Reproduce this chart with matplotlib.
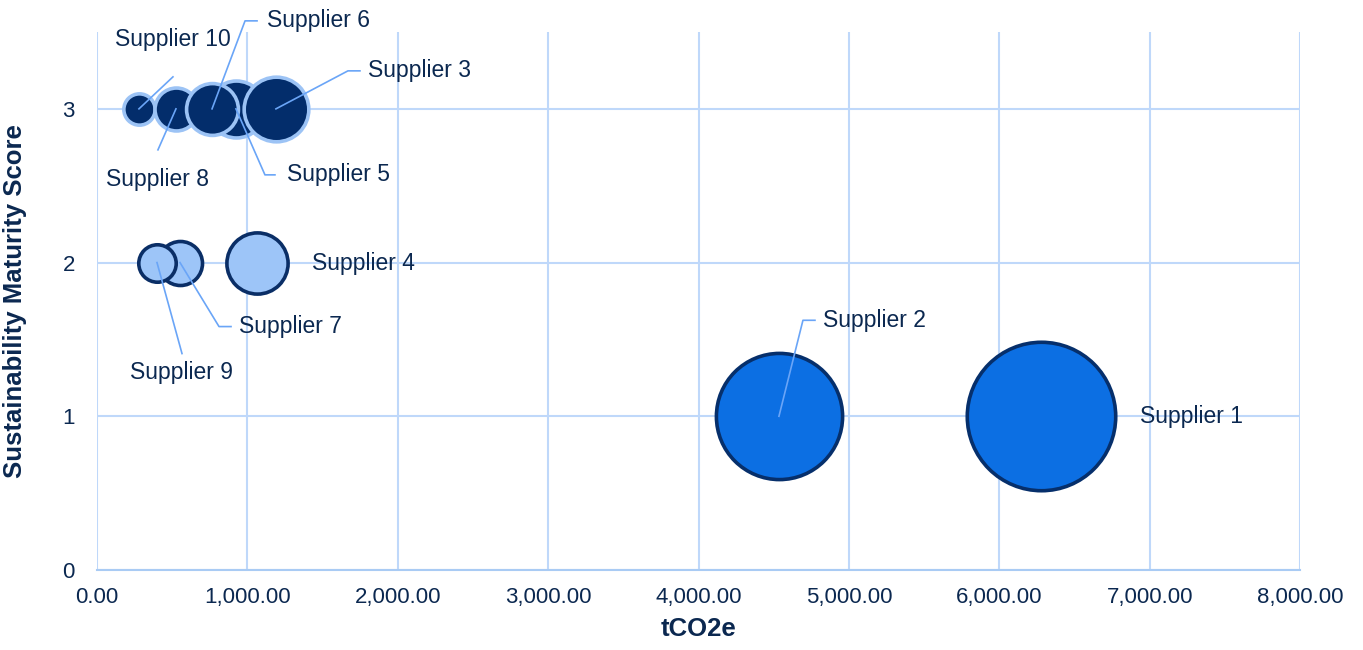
import matplotlib
matplotlib.use("Agg")
import matplotlib.pyplot as plt
from matplotlib.ticker import FuncFormatter
from matplotlib.transforms import IdentityTransform

plt.rcParams['font.family'] = ['Liberation Sans', 'DejaVu Sans']

# data
suppliers = ['Supplier 1', 'Supplier 2', 'Supplier 3', 'Supplier 4', 'Supplier 5',
             'Supplier 6', 'Supplier 7', 'Supplier 8', 'Supplier 9', 'Supplier 10']
tco2e = [6277, 4535, 1190, 1067, 924, 765, 552, 525, 399, 279]
maturity = [1, 1, 3, 2, 3, 3, 2, 3, 2, 3]
bubble_size = [6277, 4535, 1190, 1067, 924, 765, 552, 525, 399, 279]

# styling per maturity score: (fill, edge)
tier_style = {1: ('#0C6FE3', '#062F6B'),
              2: ('#9DC5F8', '#0A2E66'),
              3: ('#032D6B', '#9CC3F5')}
text_col = '#0B2850'
grid_col = '#BFD8FA'
leader_col = '#6AA5F7'

# draw order (later on top)
draw_order = [0, 1, 3, 6, 8, 9, 7, 4, 5, 2]

# label placement, pixel offsets from bubble centre (x right, y down)
# (text_dx, text_dy, ha, leader points)
label_pos = {
    'Supplier 1': (99, 0, 'left', None),
    'Supplier 2': (44, -96, 'left', [(0, 0), (24, -96), (36, -96)]),
    'Supplier 3': (92, -38, 'left', [(0, 0), (72, -38), (84, -38)]),
    'Supplier 4': (55, 1, 'left', None),
    'Supplier 5': (51, 66, 'left', [(0, 0), (29, 66), (39, 66)]),
    'Supplier 6': (55, -88, 'left', [(0, 0), (33, -88), (45, -88)]),
    'Supplier 7': (59, 64, 'left', [(0, 0), (39, 64), (51, 64)]),
    'Supplier 8': (-18, 71, 'center', [(0, 0), (-18, 41)]),
    'Supplier 9': (25, 110, 'center', [(0, 0), (25, 91)]),
    'Supplier 10': (34, -69, 'center', [(0, 0), (34, -32)]),
}

fig = plt.figure(figsize=(13.63, 6.5), dpi=100)
ax = fig.add_axes([97 / 1363, 80 / 650, 1203 / 1363, 538 / 650])

ax.set_xlim(0, 8000)
ax.set_ylim(0, 3.5)
ax.set_xticks(range(0, 8001, 1000))
ax.set_yticks([0, 1, 2, 3])
ax.xaxis.set_major_formatter(FuncFormatter(lambda v, p: f'{v:,.2f}'))
ax.grid(True, color=grid_col, lw=1.5, zorder=0)
ax.set_axisbelow(True)
for s in ['top', 'right', 'left']:
    ax.spines[s].set_visible(False)
ax.spines['bottom'].set_color('#A9CBF4')
ax.spines['bottom'].set_linewidth(1.5)
ax.tick_params(length=0, labelsize=16, labelcolor=text_col)
ax.tick_params(axis='y', pad=16)
ax.tick_params(axis='x', pad=12)

ax.set_xlabel('tCO2e', fontsize=18.5, fontweight='bold', color=text_col)
ax.set_ylabel('Sustainability Maturity Score', fontsize=18.5, fontweight='bold',
              color=text_col)
ax.xaxis.set_label_coords(0.5, -0.088)
ax.yaxis.set_label_coords(-0.058, 0.5)

scale = 1.82  # points^2 per tCO2e of bubble size
for z, i in enumerate(draw_order):
    fill, edge = tier_style[maturity[i]]
    ax.scatter(tco2e[i], maturity[i], s=bubble_size[i] * scale, color=fill,
               edgecolor=edge, linewidth=2.6, zorder=2 + z * 0.01)

fig.canvas.draw()
for i, name in enumerate(suppliers):
    dx, dy, ha, pts = label_pos[name]
    cx, cy = ax.transData.transform((tco2e[i], maturity[i]))
    if pts:
        xs = [cx + px for px, py in pts]
        ys = [cy - py for px, py in pts]
        ax.plot(xs, ys, color=leader_col, lw=1.2, transform=IdentityTransform(),
                zorder=5, clip_on=False)
    ax.annotate(name, (tco2e[i], maturity[i]), xytext=(dx, -dy),
                textcoords='offset pixels', ha=ha, va='center',
                fontsize=16.5, color=text_col, zorder=6, annotation_clip=False)

fig.savefig('out.png', dpi=100)
